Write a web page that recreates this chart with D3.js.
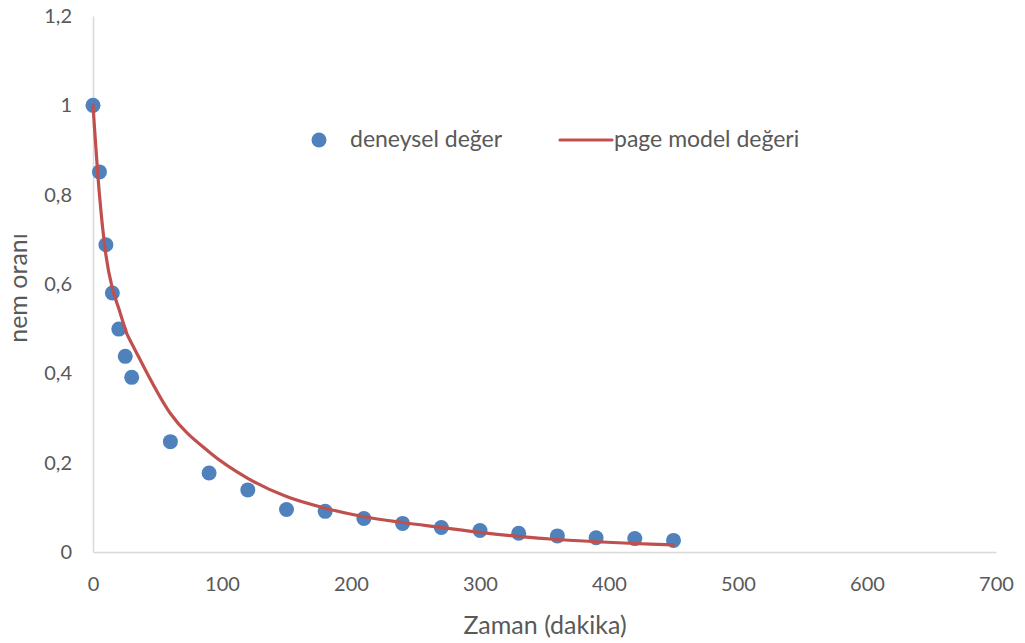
<!DOCTYPE html>
<html><head><meta charset="utf-8">
<script src="https://cdn.jsdelivr.net/npm/d3@7"></script>
<style>body{margin:0;background:#fff}</style>
</head><body>
<svg id="c" width="1025" height="643"></svg>
<script>
const times = [0,5,10,15,20,25,30,60,90,120,150,180,210,240,270,300,330,360,390,420,450];
const experimental = [1.0,0.851,0.688,0.580,0.499,0.438,0.391,0.247,0.177,0.139,0.095,0.091,0.075,0.064,0.055,0.048,0.042,0.036,0.032,0.030,0.026];
const pageModel = [1.0,0.80,0.665,0.59,0.545,0.50,0.467,0.31,0.224,0.165,0.124,0.098,0.079,0.066,0.055,0.044,0.035,0.028,0.023,0.019,0.016];
const xTicks = [0,100,200,300,400,500,600,700];
const yTicks = [0,0.2,0.4,0.6,0.8,1,1.2];
const seriesNames = ["deneysel değer","page model değeri"];
const xTitle = "Zaman (dakika)", yTitle = "nem oranı";

const svg = d3.select("#c");
const font = "Lato, 'Open Sans', sans-serif";
const txt = "#595959", axisC = "#d9d9d9";
const x = d3.scaleLinear().domain([0,700]).range([93,996]);
const y = d3.scaleLinear().domain([0,1.2]).range([552,16]);
const fmt = d => String(d).replace(".", ",");

const xa = svg.append("g").attr("transform","translate(0,552)")
  .call(d3.axisBottom(x).tickValues(xTicks).tickSize(0).tickPadding(25).tickFormat(fmt));
const ya = svg.append("g").attr("transform","translate(93,0)")
  .call(d3.axisLeft(y).tickValues(yTicks).tickSize(0).tickPadding(21).tickFormat(fmt));
[xa,ya].forEach(a=>{
  a.select(".domain").attr("stroke",axisC).attr("stroke-width",1.5);
  a.selectAll("text").attr("fill",txt).style("font-family",font).style("font-size","20px");
});

const line = d3.line().x((d,i)=>x(times[i])).y(d=>y(d)).curve(d3.curveCardinal.tension(0));
svg.append("g").selectAll("circle").data(experimental).join("circle")
  .attr("cx",(d,i)=>x(times[i])).attr("cy",d=>y(d)).attr("r",7.5).attr("fill","#4f81bd");
svg.append("path").datum(pageModel).attr("d",line).attr("fill","none")
  .attr("stroke","#c0504d").attr("stroke-width",3.2).attr("stroke-linejoin","round").attr("stroke-linecap","round");

// legend
svg.append("circle").attr("cx",319).attr("cy",140).attr("r",7.5).attr("fill","#4f81bd");
svg.append("text").attr("x",350).attr("y",147).text(seriesNames[0])
  .attr("fill",txt).style("font-family",font).style("font-size","23px");
svg.append("line").attr("x1",560).attr("x2",612).attr("y1",140).attr("y2",140)
  .attr("stroke","#c0504d").attr("stroke-width",3.2).attr("stroke-linecap","round");
svg.append("text").attr("x",614).attr("y",147).text(seriesNames[1])
  .attr("fill",txt).style("font-family",font).style("font-size","23px");

svg.append("text").attr("x",545).attr("y",634).attr("text-anchor","middle").text(xTitle)
  .attr("fill",txt).style("font-family",font).style("font-size","25px");
svg.append("text").attr("transform","translate(27,288) rotate(-90)").attr("text-anchor","middle").text(yTitle)
  .attr("fill",txt).style("font-family",font).style("font-size","25px");
</script>
</body></html>
